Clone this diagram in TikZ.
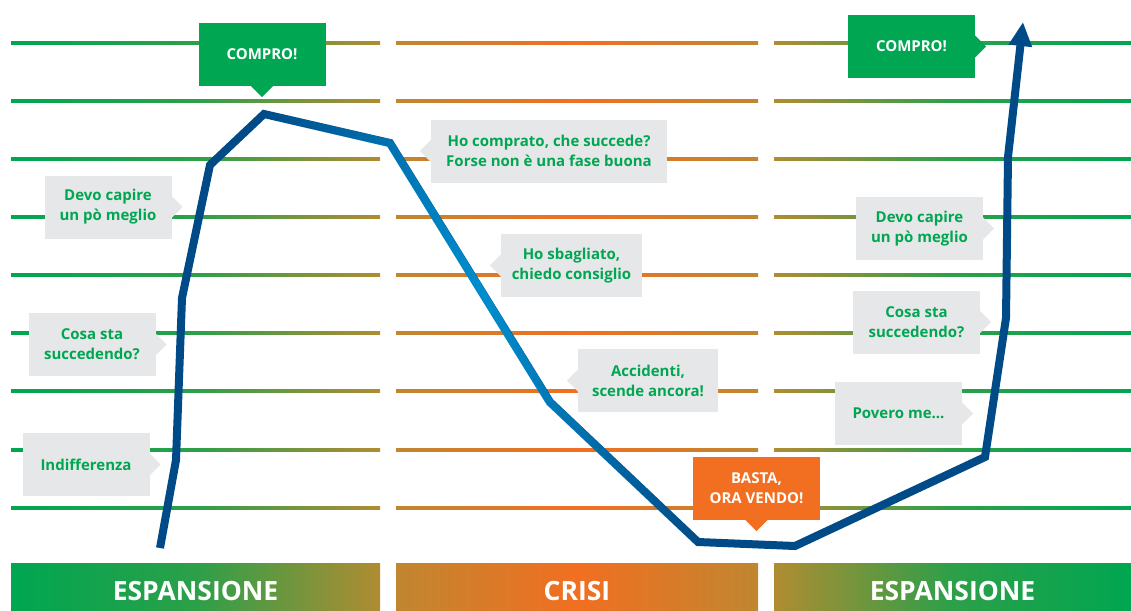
\documentclass[tikz,border=0pt]{standalone}
\usepackage{fontspec}
\setmainfont{Open Sans}
\usetikzlibrary{arrows.meta,fadings}

\definecolor{bullgreen}{RGB}{0,166,81}
\definecolor{midbrown}{RGB}{176,140,50}
\definecolor{crisisbrown}{RGB}{192,134,48}
\definecolor{crisisorange}{RGB}{242,111,33}
\definecolor{bubblegray}{RGB}{230,231,232}
\definecolor{darkblue}{RGB}{0,75,135}
\definecolor{lightblue}{RGB}{0,142,206}

\tikzfading[name=crisisfade, left color=transparent!100, right color=transparent!100, middle color=transparent!0]

\tikzset{
  thought/.style={fill=bubblegray, text=bullgreen, font=\bfseries\fontsize{15}{20}\selectfont,
    align=center, minimum width=127pt, minimum height=63pt, inner sep=0pt},
  buy/.style={thought, fill=bullgreen, text=white},
  sell/.style={thought, fill=crisisorange, text=white},
  phase/.style={text=white, font=\bfseries\fontsize{26.5}{30}\selectfont},
  bullshade/.style={left color=bullgreen, right color=midbrown, middle color=bullgreen!75!midbrown},
  bearshade/.style={left color=crisisbrown, right color=crisisbrown, middle color=crisisorange},
  backshade/.style={left color=midbrown, right color=bullgreen, middle color=bullgreen!75!midbrown},
}

% little pointers on the bubbles
\newcommand{\tipright}[2]{\fill[#2] ([yshift=11pt]#1.east) -- ([xshift=11pt]#1.east) -- ([yshift=-11pt]#1.east) -- cycle;}
\newcommand{\tipleft}[2]{\fill[#2] ([yshift=11pt]#1.west) -- ([xshift=-11pt]#1.west) -- ([yshift=-11pt]#1.west) -- cycle;}
\newcommand{\tipdown}[2]{\fill[#2] ([xshift=-11pt]#1.south) -- ([yshift=-11pt]#1.south) -- ([xshift=11pt]#1.south) -- cycle;}

\begin{document}
\begin{tikzpicture}[x=1pt,y=-1pt]
\useasboundingbox (0,0) rectangle (1131,610);

% price levels
\foreach \y in {43,101,159,217,275,333,391,450,508} {
  \shade[bullshade] (11,\y-1.5) rectangle (380,\y+1.5);
  \shade[bearshade] (396,\y-1.5) rectangle (758,\y+1.5);
  \shade[backshade] (774,\y-1.5) rectangle (1131,\y+1.5);
}

% phases
\shade[bullshade] (11,563) rectangle (380,610);
\shade[bearshade] (396,563) rectangle (758,610);
\shade[backshade] (774,563) rectangle (1131,610);
\node[phase] (exp1) at (195.5,591) {ESPANSIONE};
\node[phase] (crisi) at (577,591) {CRISI};
\node[phase] (exp2) at (952.5,591) {ESPANSIONE};

% market curve
\draw[darkblue, line width=8pt, -{Triangle[length=24pt,width=22pt]}]
  (160,548) -- (176,460) -- (182,298) -- (210,165) -- (264,114) -- (390,143)
  -- (550,402) -- (698,542) -- (795,546) -- (985,457) -- (1006,318)
  -- (1008,157) -- (1023,22);
\draw[lightblue, line width=8pt, path fading=crisisfade]
  (264,114) -- (390,143) -- (550,402) -- (698,542);

% thoughts
\node[thought] (capireL) at (108,207) {Devo capire\\un pò meglio};
\node[thought] (cosaL) at (92,344.5) {Cosa sta\\succedendo?};
\node[thought] (indiff) at (86,464.5) {Indifferenza};
\node[buy] (buyL) at (262,54.5) {COMPRO!};
\node[thought, minimum width=236pt] (comprato) at (549,151) {Ho comprato, che succede?\\Forse non è una fase buona};
\node[thought, minimum width=141pt] (sbagliato) at (571.5,265.5) {Ho sbagliato,\\chiedo consiglio};
\node[thought, minimum width=140pt] (accidenti) at (648,380.5) {Accidenti,\\scende ancora!};
\node[sell] (vendo) at (756.5,488.5) {BASTA,\\ORA VENDO!};
\node[buy] (buyR) at (911.5,46.5) {COMPRO!};
\node[thought] (capireR) at (919.5,228.5) {Devo capire\\un pò meglio};
\node[thought] (cosaR) at (916.5,322) {Cosa sta\\succedendo?};
\node[thought] (povero) at (898.5,413.5) {Povero me...};

\tipright{capireL}{bubblegray}
\tipright{cosaL}{bubblegray}
\tipright{indiff}{bubblegray}
\tipdown{buyL}{bullgreen}
\tipleft{comprato}{bubblegray}
\tipleft{sbagliato}{bubblegray}
\tipleft{accidenti}{bubblegray}
\tipdown{vendo}{crisisorange}
\tipright{buyR}{bullgreen}
\tipright{capireR}{bubblegray}
\tipright{cosaR}{bubblegray}
\tipright{povero}{bubblegray}
\end{tikzpicture}
\end{document}
